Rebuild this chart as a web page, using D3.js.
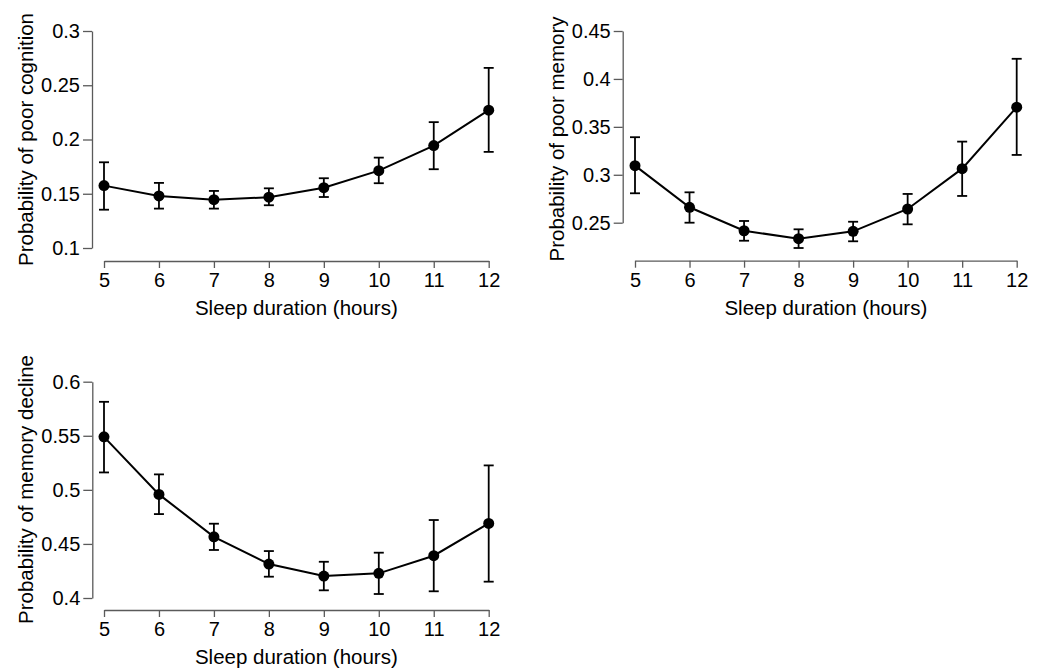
<!DOCTYPE html>
<html>
<head>
<meta charset="utf-8">
<script src="https://cdn.jsdelivr.net/npm/d3@7"></script>
<style>
  body { margin: 0; background: #fff; }
  svg text { font-family: 'Liberation Sans', Arial, sans-serif; fill: #000; }
  .axis path, .axis line { stroke: #5a5a5a; stroke-width: 1.3px; }
  .axis text { font-size: 20px; }
  .title { font-size: 20.5px; }
</style>
</head>
<body>
<svg id="fig" width="1048" height="668"></svg>
<script>
// sleep duration categories
const hours = [5, 6, 7, 8, 9, 10, 11, 12]

// probability of poor cognition
const cognitionMean = [0.1575, 0.148, 0.1445, 0.1468, 0.1556, 0.1713, 0.1944, 0.227]
const cognitionLow = [0.1353, 0.1363, 0.1363, 0.1394, 0.147, 0.1597, 0.1726, 0.1886]
const cognitionHigh = [0.179, 0.160, 0.1526, 0.155, 0.1643, 0.1833, 0.216, 0.266]
const cognitionTicks = [0.1, 0.15, 0.2, 0.25, 0.3]

// probability of poor memory
const memoryMean = [0.3095, 0.2661, 0.2416, 0.2333, 0.241, 0.2643, 0.3064, 0.3705]
const memoryLow = [0.2807, 0.25, 0.2312, 0.2236, 0.2306, 0.2483, 0.2779, 0.3207]
const memoryHigh = [0.3392, 0.2817, 0.2518, 0.2431, 0.251, 0.280, 0.3346, 0.421]
const memoryTicks = [0.25, 0.3, 0.35, 0.4, 0.45]

// probability of memory decline
const declineMean = [0.549, 0.4958, 0.4566, 0.4314, 0.4203, 0.4228, 0.4391, 0.469]
const declineLow = [0.5161, 0.4776, 0.4444, 0.4197, 0.4071, 0.4037, 0.4062, 0.4151]
const declineHigh = [0.5814, 0.5143, 0.4687, 0.4434, 0.4335, 0.4419, 0.4721, 0.5226]
const declineTicks = [0.4, 0.45, 0.5, 0.55, 0.6]

const xTitle = 'Sleep duration (hours)'

const panels = [
  { label: 'Probability of poor cognition', mean: cognitionMean, low: cognitionLow, high: cognitionHigh,
    ticks: cognitionTicks, left: 92, xRange: [104, 488.7], xAxisY: 261, yRange: [248, 31], titleY: 139.5 },
  { label: 'Probability of poor memory', mean: memoryMean, low: memoryLow, high: memoryHigh,
    ticks: memoryTicks, left: 622.7, xRange: [635, 1016.7], xAxisY: 260.7, yRange: [222.7, 31], titleY: 139 },
  { label: 'Probability of memory decline', mean: declineMean, low: declineLow, high: declineHigh,
    ticks: declineTicks, left: 92.3, xRange: [104, 488.7], xAxisY: 610, yRange: [598, 381.7], titleY: 489.5 },
]

const svg = d3.select('#fig')

const drawPanel = (p) => {
  let g = svg.append('g')
  let xScale = d3.scaleLinear().domain([5, 12]).range(p.xRange)
  let yScale = d3.scaleLinear().domain([p.ticks[0], p.ticks[p.ticks.length - 1]]).range(p.yRange)

  let yAxis = d3.axisLeft(yScale).tickValues(p.ticks).tickSize(9).tickPadding(3)
    .tickSizeOuter(0).tickFormat(d3.format('~g'))
  g.append('g')
    .attr('class', 'axis')
    .attr('transform', `translate(${p.left},0)`)
    .call(yAxis)

  let xAxis = d3.axisBottom(xScale).tickValues(hours).tickSize(7).tickPadding(5)
    .tickSizeOuter(0).tickFormat(d3.format('d'))
  g.append('g')
    .attr('class', 'axis')
    .attr('transform', `translate(0,${p.xAxisY})`)
    .call(xAxis)

  g.append('text')
    .attr('class', 'title')
    .attr('x', (p.xRange[0] + p.xRange[1]) / 2)
    .attr('y', p.xAxisY + 54)
    .attr('text-anchor', 'middle')
    .text(xTitle)

  g.append('text')
    .attr('class', 'title')
    .attr('transform', `translate(${p.left - 59},${p.titleY}) rotate(-90)`)
    .attr('text-anchor', 'middle')
    .text(p.label)

  let pts = hours.map((h, i) => ({ h: h, m: p.mean[i], lo: p.low[i], hi: p.high[i] }))

  // error bars
  let bars = g.selectAll('.err').data(pts).enter().append('g').attr('class', 'err')
    .attr('stroke', '#000').attr('stroke-width', 1.8)
  bars.append('line')
    .attr('x1', (d) => xScale(d.h)).attr('x2', (d) => xScale(d.h))
    .attr('y1', (d) => yScale(d.lo)).attr('y2', (d) => yScale(d.hi))
  bars.append('line')
    .attr('x1', (d) => xScale(d.h) - 5).attr('x2', (d) => xScale(d.h) + 5)
    .attr('y1', (d) => yScale(d.hi)).attr('y2', (d) => yScale(d.hi))
  bars.append('line')
    .attr('x1', (d) => xScale(d.h) - 5).attr('x2', (d) => xScale(d.h) + 5)
    .attr('y1', (d) => yScale(d.lo)).attr('y2', (d) => yScale(d.lo))

  let line = d3.line().x((d) => xScale(d.h)).y((d) => yScale(d.m))
  g.append('path')
    .datum(pts)
    .attr('d', line)
    .attr('fill', 'none')
    .attr('stroke', '#000')
    .attr('stroke-width', 2)

  g.selectAll('.dot').data(pts).enter().append('circle')
    .attr('class', 'dot')
    .attr('cx', (d) => xScale(d.h))
    .attr('cy', (d) => yScale(d.m))
    .attr('r', 5.5)
    .attr('fill', '#000')
}

panels.forEach(drawPanel)
</script>
</body>
</html>
